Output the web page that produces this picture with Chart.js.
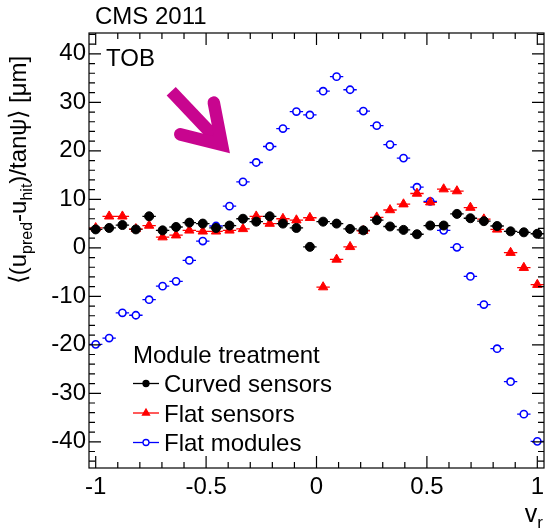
<!DOCTYPE html>
<html>
<head>
<meta charset="utf-8">
<script src="https://cdn.jsdelivr.net/npm/chart.js@4.4.1/dist/chart.umd.min.js"></script>
<style>
  html, body { margin: 0; padding: 0; background: #fff; }
  #wrap { width: 557px; height: 530px; }
</style>
</head>
<body>
<div id="wrap"><canvas id="c" width="557" height="530"></canvas></div>
<script>
// bin centres in v_r
const vr = [-1.000, -0.939, -0.879, -0.818, -0.758, -0.697, -0.636, -0.576, -0.515, -0.455,
            -0.394, -0.333, -0.273, -0.212, -0.152, -0.091, -0.030, 0.030, 0.091, 0.152,
            0.212, 0.273, 0.333, 0.394, 0.455, 0.515, 0.576, 0.636, 0.697, 0.758,
            0.818, 0.879, 0.939, 1.000];
const curvedSensors = [3.8, 4.1, 4.7, 3.8, 6.5, 3.6, 4.3, 5.2, 5.0, 4.1,
                       4.6, 6.0, 5.4, 6.5, 5.0, 4.1, 0.2, 5.4, 5.0, 3.9,
                       3.6, 5.7, 4.4, 3.7, 2.8, 4.6, 4.6, 7.0, 6.1, 5.5,
                       4.5, 3.4, 3.2, 2.9];
const flatSensors = [4.1, 6.5, 6.5, 3.9, 4.6, 2.2, 2.6, 3.6, 3.4, 3.4,
                     3.6, 3.9, 6.5, 5.0, 6.0, 5.7, 6.2, -8.1, -2.4, 0.2,
                     3.5, 6.3, 7.8, 9.0, 11.2, 9.4, 12.1, 11.7, 8.3, 5.9,
                     3.8, -1.0, -4.1, -7.6];
const flatModules = [-19.9, -18.6, -13.4, -13.9, -10.7, -7.9, -6.9, -2.6, 1.4, 4.5,
                     8.6, 13.6, 17.6, 20.9, 24.6, 28.1, 27.4, 32.3, 35.3, 32.6,
                     28.2, 25.2, 21.3, 18.5, 12.5, 9.6, 3.6, 0.1, -5.9, -11.7,
                     -20.8, -27.6, -34.3, -39.9];
const halfBin = 0.0303;

const xTicks = [-1, -0.5, 0, 0.5, 1];
const yTicks = [-40, -30, -20, -10, 0, 10, 20, 30, 40];
const seriesNames = ['Curved sensors', 'Flat sensors', 'Flat modules'];
const legendTitle = 'Module treatment';
const arrowTail = { x: -0.658, y: 32.3 };
const arrowTip = { x: -0.392, y: 19.5 };

const FONT = '"Liberation Sans", Arial, Helvetica, sans-serif';

function toPoints(ys) {
  return vr.map((x, i) => ({ x: x, y: ys[i] }));
}

// ROOT-like frame, inward ticks, labels, legend and the pointer arrow
const rootStyle = {
  id: 'rootStyle',
  beforeDatasetsDraw(chart) {
    const { ctx, scales: { x, y } } = chart;
    ctx.save();
    ctx.lineWidth = 1.3;
    chart.data.datasets.forEach(ds => {
      ctx.strokeStyle = ds.borderColor;
      ctx.beginPath();
      ds.data.forEach(p => {
        const py = y.getPixelForValue(p.y);
        ctx.moveTo(x.getPixelForValue(p.x - halfBin), py);
        ctx.lineTo(x.getPixelForValue(p.x + halfBin), py);
      });
      ctx.stroke();
    });
    ctx.restore();
  },
  afterDraw(chart) {
    const { ctx, chartArea: a, scales: { x, y } } = chart;
    ctx.save();

    // frame + ticks
    ctx.strokeStyle = '#000';
    ctx.lineWidth = 1.2;
    ctx.strokeRect(a.left, a.top, a.right - a.left, a.bottom - a.top);
    ctx.beginPath();
    for (let k = -10; k <= 10; k++) {
      const px = x.getPixelForValue(k / 10);
      const len = k % 5 === 0 ? 12 : 6;
      ctx.moveTo(px, a.bottom); ctx.lineTo(px, a.bottom - len);
      ctx.moveTo(px, a.top); ctx.lineTo(px, a.top + len);
    }
    for (let v = -44; v <= 44; v += 2) {
      const py = y.getPixelForValue(v);
      const len = v % 10 === 0 ? 12 : 6;
      ctx.moveTo(a.left, py); ctx.lineTo(a.left + len, py);
      ctx.moveTo(a.right, py); ctx.lineTo(a.right - len, py);
    }
    ctx.stroke();

    ctx.fillStyle = '#000';
    ctx.textAlign = 'left';
    ctx.textBaseline = 'alphabetic';

    ctx.font = '24px ' + FONT;
    ctx.fillText('CMS 2011', 95, 24);
    ctx.fillText('TOB', 106, 66);

    // y title, rotated, with subscripts
    ctx.save();
    ctx.translate(26, 170);
    ctx.rotate(-Math.PI / 2);
    const parts = [['\u27E8(u', 0], ['pred', 1], ['-u', 0], ['hit', 1], [')/tan\u03C8\u27E9 [\u03BCm]', 0]];
    let total = 0;
    parts.forEach(([t, sub]) => {
      ctx.font = (sub ? '16px ' : '24px ') + FONT;
      total += ctx.measureText(t).width;
    });
    let cx = -total / 2;
    parts.forEach(([t, sub]) => {
      ctx.font = (sub ? '16px ' : '24px ') + FONT;
      ctx.fillText(t, cx, sub ? 6 : 0);
      cx += ctx.measureText(t).width;
    });
    ctx.restore();

    // x title
    ctx.font = '17px ' + FONT;
    const rW = ctx.measureText('r').width;
    ctx.fillText('r', 543 - rW, 528);
    ctx.font = '25px ' + FONT;
    const vW = ctx.measureText('v').width;
    ctx.fillText('v', 543 - rW - vW, 522);

    // legend
    const rows = [363, 392, 421.5, 451];
    ctx.font = '24px ' + FONT;
    ctx.fillText(legendTitle, 133, rows[0]);
    chart.data.datasets.forEach((ds, i) => {
      const by = rows[i + 1];
      const ly = by - 8.5;
      ctx.strokeStyle = ds.borderColor;
      ctx.lineWidth = 1.3;
      ctx.beginPath();
      ctx.moveTo(133, ly); ctx.lineTo(159, ly);
      ctx.stroke();
      ctx.fillStyle = ds.backgroundColor;
      Chart.helpers.drawPoint(ctx, {
        pointStyle: ds.pointStyle,
        radius: ds.pointStyle === 'triangle' ? 4 : 3,
        borderWidth: ds.borderWidth,
        rotation: 0
      }, 146, ly);
      ctx.fillStyle = '#000';
      ctx.fillText(ds.label, 164, by);
    });

    // pointer arrow
    const tx = x.getPixelForValue(arrowTail.x), ty = y.getPixelForValue(arrowTail.y);
    const hx = x.getPixelForValue(arrowTip.x), hy = y.getPixelForValue(arrowTip.y);
    const back = Math.atan2(ty - hy, tx - hx);
    const w = 12.5, half = 32.5 * Math.PI / 180, wing = 43;
    const ext = (w / 2) / Math.sin(half);
    const vx = hx + Math.cos(back) * ext, vy = hy + Math.sin(back) * ext;
    ctx.strokeStyle = '#c8058f';
    ctx.lineWidth = w;
    ctx.lineCap = 'butt';
    ctx.beginPath();
    ctx.moveTo(tx, ty);
    ctx.lineTo(vx + Math.cos(back) * 4, vy + Math.sin(back) * 4);
    ctx.stroke();
    ctx.lineCap = 'round';
    ctx.lineJoin = 'miter';
    ctx.miterLimit = 10;
    ctx.beginPath();
    ctx.moveTo(vx + Math.cos(back - half) * wing, vy + Math.sin(back - half) * wing);
    ctx.lineTo(vx, vy);
    ctx.lineTo(vx + Math.cos(back + half) * wing, vy + Math.sin(back + half) * wing);
    ctx.stroke();

    ctx.restore();
  }
};

new Chart(document.getElementById('c'), {
  type: 'scatter',
  data: {
    datasets: [
      {
        label: seriesNames[0],
        data: toPoints(curvedSensors),
        pointStyle: 'circle',
        pointRadius: 4.5,
        backgroundColor: '#000',
        borderColor: '#000',
        borderWidth: 1
      },
      {
        label: seriesNames[1],
        data: toPoints(flatSensors),
        pointStyle: 'triangle',
        pointRadius: 5.4,
        backgroundColor: '#ff0000',
        borderColor: '#ff0000',
        borderWidth: 1
      },
      {
        label: seriesNames[2],
        data: toPoints(flatModules),
        pointStyle: 'circle',
        pointRadius: 3.6,
        backgroundColor: '#ffffff',
        borderColor: '#0000ff',
        borderWidth: 1.6
      }
    ]
  },
  options: {
    responsive: false,
    animation: false,
    devicePixelRatio: 1,
    layout: { padding: { top: 33, right: 13, left: 0, bottom: 0 } },
    plugins: {
      legend: { display: false },
      tooltip: { enabled: false }
    },
    scales: {
      x: {
        type: 'linear',
        min: -1.0303,
        max: 1.0303,
        grid: { display: false, drawTicks: false },
        border: { display: false },
        afterBuildTicks: s => { s.ticks = xTicks.map(v => ({ value: v })); },
        afterFit: s => { s.height = 62; },
        ticks: {
          font: { family: FONT, size: 24 },
          color: '#000',
          padding: 5,
          maxRotation: 0,
          autoSkip: false,
          callback: v => String(v)
        }
      },
      y: {
        type: 'linear',
        min: -45.4,
        max: 44.3,
        grid: { display: false, drawTicks: false },
        border: { display: false },
        afterBuildTicks: s => { s.ticks = yTicks.map(v => ({ value: v })); },
        afterFit: s => { s.width = 89; },
        ticks: {
          font: { family: FONT, size: 24 },
          color: '#000',
          padding: 3,
          callback: v => String(v)
        }
      }
    }
  },
  plugins: [rootStyle]
});
</script>
</body>
</html>
